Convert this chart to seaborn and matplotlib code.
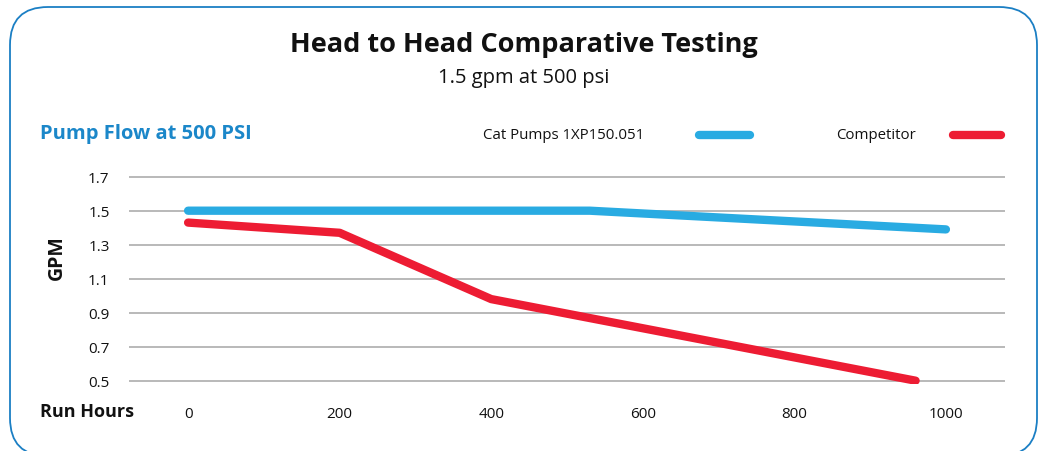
import numpy as np
import pandas as pd
import seaborn as sns
import matplotlib.pyplot as plt
from matplotlib.patches import FancyBboxPatch

# values
cat_hours = [0, 530, 1000]
cat_gpm = [1.50, 1.50, 1.39]
comp_hours = [0, 200, 400, 960]
comp_gpm = [1.43, 1.37, 0.98, 0.50]
series_names = ['Cat Pumps 1XP150.051', 'Competitor']
x_ticks = [0, 200, 400, 600, 800, 1000]
y_ticks = [0.5, 0.7, 0.9, 1.1, 1.3, 1.5, 1.7]

blue = '#29abe2'
red = '#ed1c33'

data = pd.concat([
    pd.DataFrame({'hours': cat_hours, 'gpm': cat_gpm, 'series': series_names[0]}),
    pd.DataFrame({'hours': comp_hours, 'gpm': comp_gpm, 'series': series_names[1]}),
])

sns.set_theme(style='white')
plt.rcParams['font.family'] = ['Open Sans', 'DejaVu Sans']

fig = plt.figure(figsize=(10.47, 4.52), dpi=100)
ax = fig.add_axes([0.1232, 0.148, 0.8367, 0.4664])

for y in y_ticks:
    ax.axhline(y, color='#a6a6a6', lw=1.1, zorder=0)

sns.lineplot(data=data, x='hours', y='gpm', hue='series',
             palette=[blue, red], linewidth=6, legend=False, ax=ax,
             solid_capstyle='round', solid_joinstyle='round')

ax.set_xlim(-78, 1078)
ax.set_ylim(0.48, 1.72)
ax.set_xticks(x_ticks)
ax.set_yticks(y_ticks)
ax.set_yticklabels([f'{v:.1f}' for v in y_ticks])
ax.tick_params(axis='both', length=0, labelsize=11, colors='#111111')
ax.tick_params(axis='x', pad=16)
ax.tick_params(axis='y', pad=14)
ax.set_xlabel('')
ax.set_ylabel('')
sns.despine(ax=ax, left=True, bottom=True)
ax.grid(False)

fig.text(0.5, 0.900, 'Head to Head Comparative Testing', ha='center', va='center',
         fontsize=19.5, fontweight='bold', color='#111111')
fig.text(0.5, 0.828, '1.5 gpm at 500 psi', ha='center', va='center',
         fontsize=14.5, color='#111111')
fig.text(0.038, 0.704, 'Pump Flow at 500 PSI', ha='left', va='center',
         fontsize=14.5, fontweight='bold', color='#1b87c9')
fig.text(0.038, 0.088, 'Run Hours', ha='left', va='center',
         fontsize=13, fontweight='bold', color='#111111')
fig.text(0.054, 0.43, 'GPM', ha='center', va='center', rotation=90,
         fontsize=14, fontweight='bold', color='#111111')

# legend drawn by hand to match the header row
fig.text(0.461, 0.700, series_names[0], ha='left', va='center', fontsize=10.8, color='#111111')
fig.add_artist(plt.Line2D([0.668, 0.716], [0.700, 0.700], color=blue, lw=6,
                          solid_capstyle='round', transform=fig.transFigure))
fig.text(0.799, 0.700, series_names[1], ha='left', va='center', fontsize=10.8, color='#111111')
fig.add_artist(plt.Line2D([0.910, 0.956], [0.700, 0.700], color=red, lw=6,
                          solid_capstyle='round', transform=fig.transFigure))

border = FancyBboxPatch((0.1, -0.05), 10.27, 4.49,
                        boxstyle='round,pad=0,rounding_size=0.38',
                        transform=fig.dpi_scale_trans, fill=False,
                        edgecolor='#1b7fc4', lw=1.3)
fig.add_artist(border)

fig.savefig('out.png', dpi=100)
